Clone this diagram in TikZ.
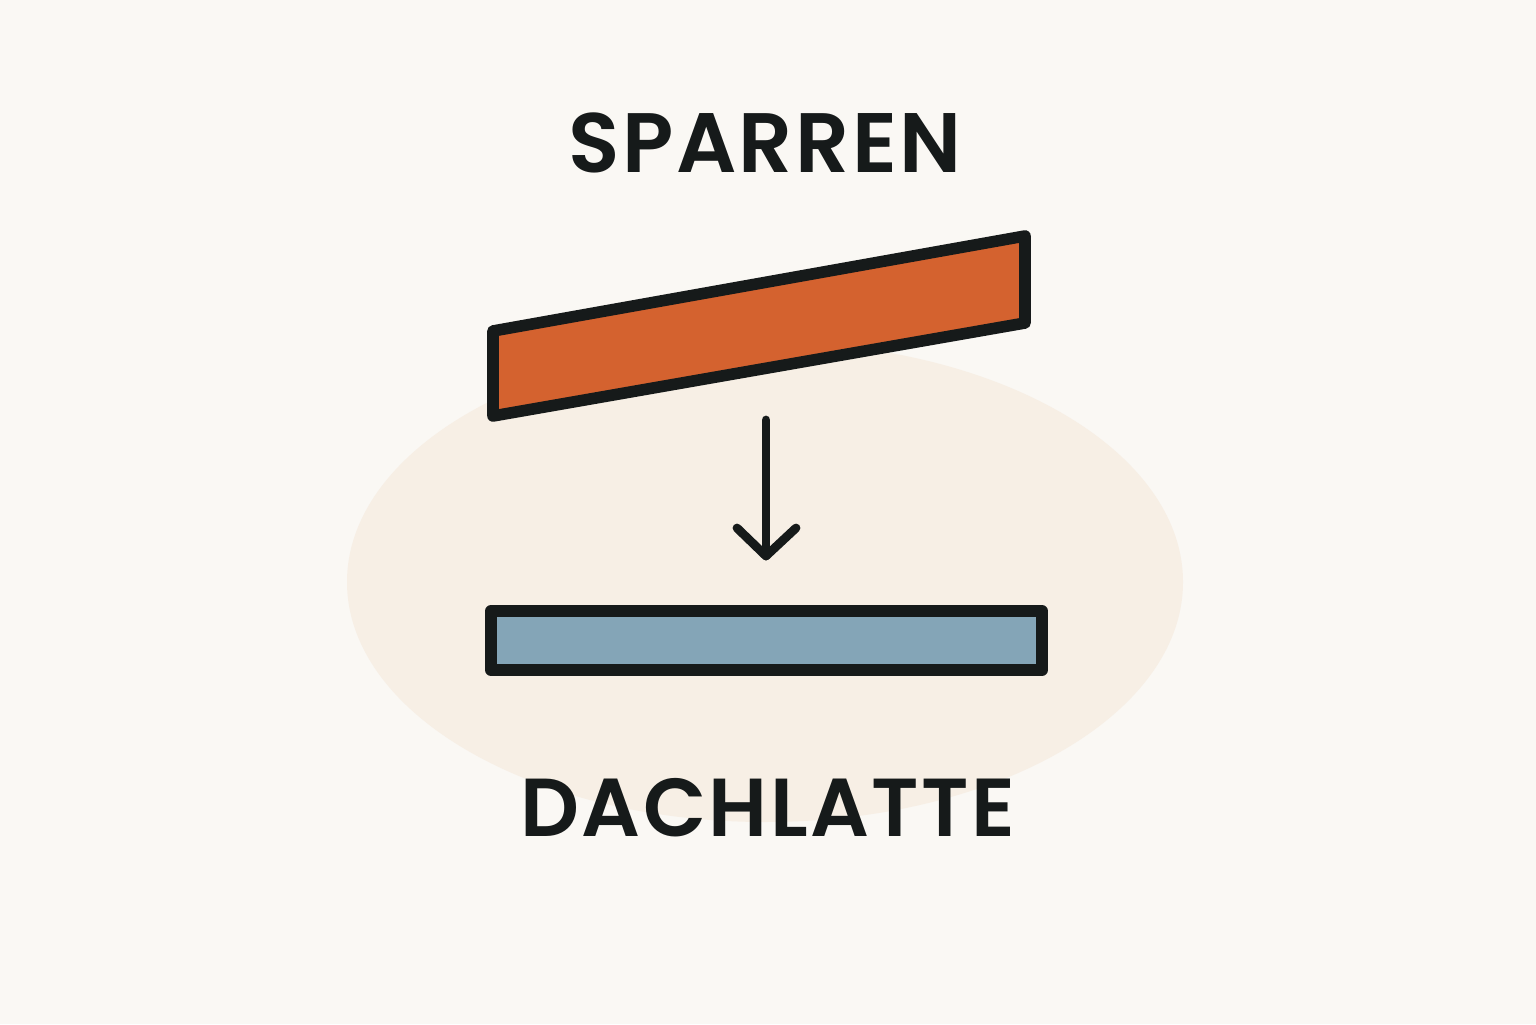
\documentclass[tikz,border=0pt]{standalone}
\usepackage{fontspec}
\setmainfont{Poppins}[BoldFont={Poppins SemiBold}, LetterSpace=3]
\usepackage{tkz-euclide}
\definecolor{paper}{HTML}{FAF8F4}
\definecolor{blob}{HTML}{F7EFE5}
\definecolor{sparrenfill}{HTML}{D4622F}
\definecolor{lattenfill}{HTML}{84A5B7}
\definecolor{ink}{HTML}{161A1A}
\tikzset{
  holz/.style={draw=ink, line width=3.3pt, line join=round},
  titel/.style={text=ink, font=\fontsize{24}{28}\selectfont\bfseries, inner sep=0pt}
}

\begin{document}
\begin{tikzpicture}
            \useasboundingbox (0,0) rectangle (15.36,10.24);
            \fill[paper] (0,0) rectangle (15.36,10.24);
            \tkzDefPoints{7.65/4.42/M}
            \fill[blob] (M) ellipse [x radius=4.18, y radius=2.4];
            \tkzDefPoints{4.93/6.93/A, 4.93/6.08/B, 10.25/7.01/C, 10.25/7.88/D}
            \tkzDefPoints{4.91/4.13/E, 10.42/4.13/F, 10.42/3.54/G, 4.91/3.54/H}
            \tkzDefPoints{7.66/6.04/P, 7.66/4.68/Q, 7.37/4.96/L, 7.96/4.96/R}
            \tkzDrawPolygon[holz, fill=sparrenfill](A,B,C,D)
            \tkzDrawPolygon[holz, fill=lattenfill](E,F,G,H)
            \draw[ink, line width=2.5pt, line cap=round] (P) -- (Q);
            \draw[ink, line width=2.5pt, line cap=round, line join=round] (L) -- (Q) -- (R);
            \node[titel] (sparren) at (7.65,8.81) {SPARREN};
            \node[titel, font=\fontsize{23.4}{28}\selectfont\bfseries] (dachlatte) at (7.68,2.16) {DACHLATTE};
        \end{tikzpicture}
\end{document}
